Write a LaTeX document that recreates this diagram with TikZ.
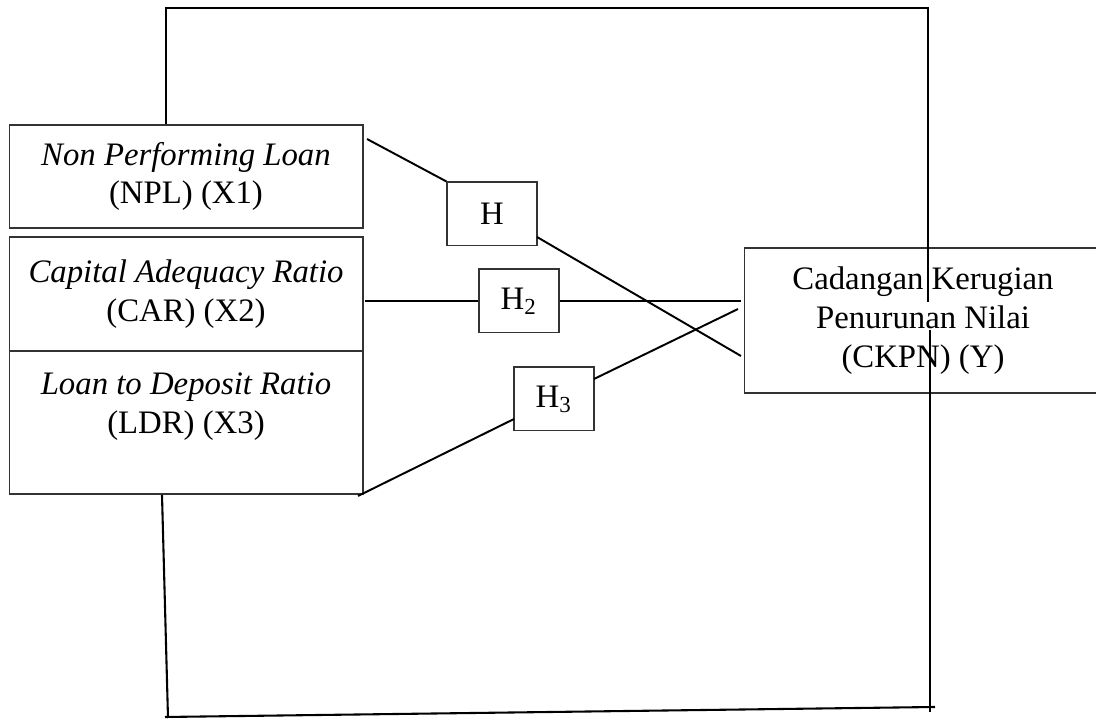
\documentclass[tikz,border=0pt]{standalone}
\usepackage{fontspec}
\setmainfont{Liberation Serif}
\usepackage{tikz}

\begin{document}
\begin{tikzpicture}[x=0.36pt,y=-0.36pt,
        font=\fontsize{11.8}{14}\selectfont,
        varbox/.style={draw=black!80,line width=0.4pt,align=center,
          inner sep=0pt},
        hypbox/.style={draw=black!80,line width=0.4pt,inner sep=0pt,
          minimum width=28.8pt,minimum height=23pt},
        link/.style={line width=0.7pt},
        frame/.style={line width=0.75pt}]
        \clip (0,0) rectangle (1096,719);
        % Variable boxes on the left, the dependent one on the right.
        \node[varbox,minimum width=127.4pt,minimum height=37.1pt]
          (npl) at (186,176.5) {\textit{Non Performing Loan}\\(NPL) (X1)};
        \node[varbox,minimum width=127.4pt,minimum height=41pt]
          (car) at (186,294) {\textit{Capital Adequacy Ratio}\\(CAR) (X2)};
        \node[varbox,minimum width=127.4pt,minimum height=51.5pt]
          (ldr) at (186,422.5) {\textit{Loan to Deposit Ratio}\\(LDR) (X3)\\ };
        \node[varbox,minimum width=128.5pt,minimum height=52.2pt]
          (ckpn) at (923,320.5) {Cadangan Kerugian\\Penurunan Nilai\\(CKPN) (Y)};
        \node[hypbox,minimum width=32.4pt] (h1) at (492,214) {H};
        \node[hypbox] (h2) at (519,301) {H\textsubscript{2}};
        \node[hypbox] (h3) at (554,399) {H\textsubscript{3}};
        \coordinate (nplout) at (367,139);
        \coordinate (h1out) at (537,237);
        \coordinate (h1in) at (741,356);
        \coordinate (carout) at (365,301);
        \coordinate (h2in) at (741,301);
        \coordinate (ldrout) at (358,496);
        \coordinate (h3l) at (514,419);
        \coordinate (h3r) at (594,379);
        \coordinate (h3in) at (738,309);
        \draw[link] (nplout) -- (h1.north west);
        \draw[link] (h1out) -- (h1in);
        \draw[link] (carout) -- (h2.west);
        \draw[link] (h2.east) -- (h2in);
        \draw[link] (ldrout) -- (h3l);
        \draw[link] (h3r) -- (h3in);
        % Outer frame, broken where it meets the boxes.
        \coordinate (tl) at (166,8);
        \coordinate (tr) at (928,8);
        \coordinate (rmid) at (928,302);
        \coordinate (rtop) at (930,330);
        \coordinate (rbot) at (930,712);
        \coordinate (br) at (935,707);
        \coordinate (bl) at (165,717);
        \coordinate (ltop) at (162,495);
        \coordinate (lbot) at (168,718);
        \draw[frame] (npl.north -| tl) -- (tl) -- (tr) -- (rmid);
        \draw[frame] (rtop) -- (rbot);
        \draw[frame] (br) -- (bl);
        \draw[frame] (ltop) -- (lbot);
      \end{tikzpicture}
\end{document}
